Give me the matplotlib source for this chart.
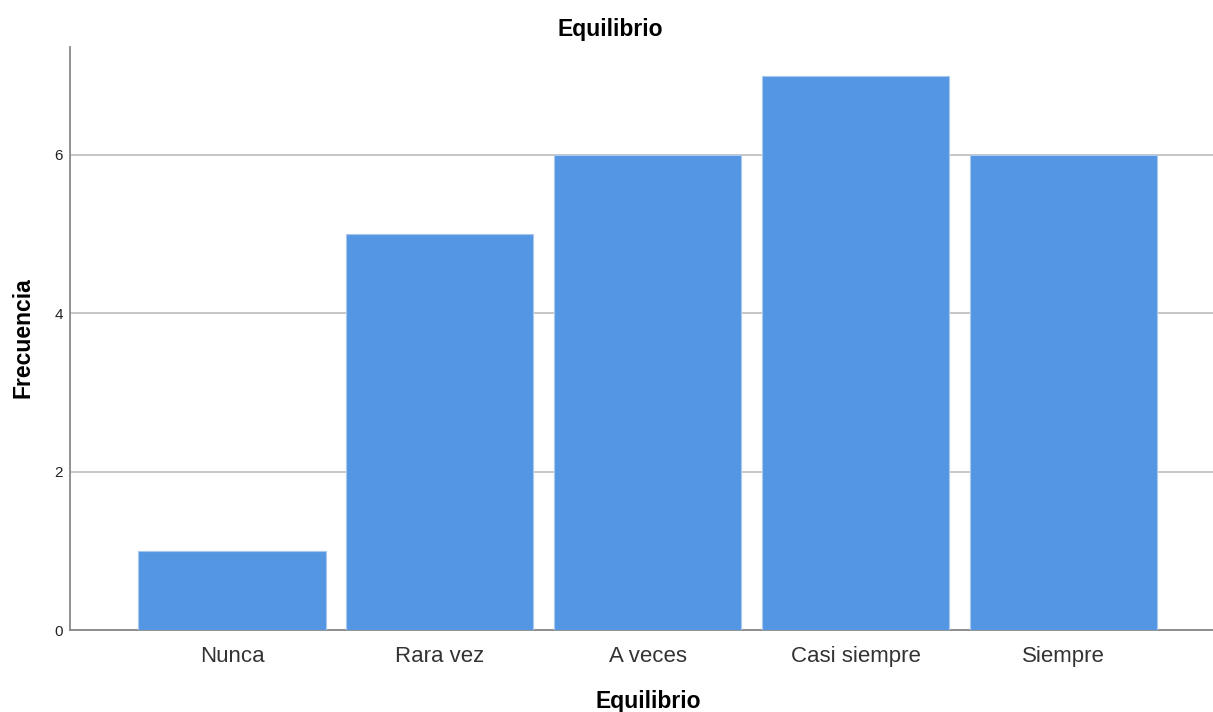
import matplotlib
matplotlib.use("Agg")
import matplotlib.pyplot as plt

categories = ["Nunca", "Rara vez", "A veces", "Casi siempre", "Siempre"]
values = [1, 5, 6, 7, 6]
yticks = [0, 2, 4, 6]

plt.rcParams['font.family'] = ['Liberation Sans', 'DejaVu Sans']

W, H = 1213, 712
fig = plt.figure(figsize=(W/100, H/100), dpi=100)
ax = fig.add_axes([70/W, (H-630)/H, (W-70)/W, (630-47)/H])

x = list(range(len(categories)))
ax.bar(x, values, width=0.9, color="#5596E3", edgecolor="#A9C8F0", linewidth=0.8, zorder=3)
ax.set_xlim(-0.779, 4.718)
ax.set_ylim(0, 7.364)
ax.set_yticks(yticks)
ax.set_yticklabels([str(t) for t in yticks], fontsize=11, color="#222222")
ax.set_xticks(x)
ax.set_xticklabels(categories, fontsize=16, color="#333333")
ax.tick_params(axis='y', length=0, pad=5)
ax.tick_params(axis='x', length=0, pad=11.5)
ax.yaxis.grid(True, color="#BDBDBD", linewidth=1.2, zorder=0)
ax.set_axisbelow(True)
for s in ['top', 'right']:
    ax.spines[s].set_visible(False)
for s in ['left', 'bottom']:
    ax.spines[s].set_color("#888888")
    ax.spines[s].set_linewidth(1.3)

fig.text(648/W, 1-708/H, "Equilibrio", fontsize=16.5, fontweight='bold', ha='center', va='baseline')
fig.text(23/W, 1-337.5/H, "Frecuencia", fontsize=16.5, fontweight='bold', ha='center', va='center', rotation=90)
fig.text(610.5/W, 1-36/H, "Equilibrio", fontsize=16.5, fontweight='bold', ha='center', va='baseline')

fig.savefig("out.png", dpi=100)
